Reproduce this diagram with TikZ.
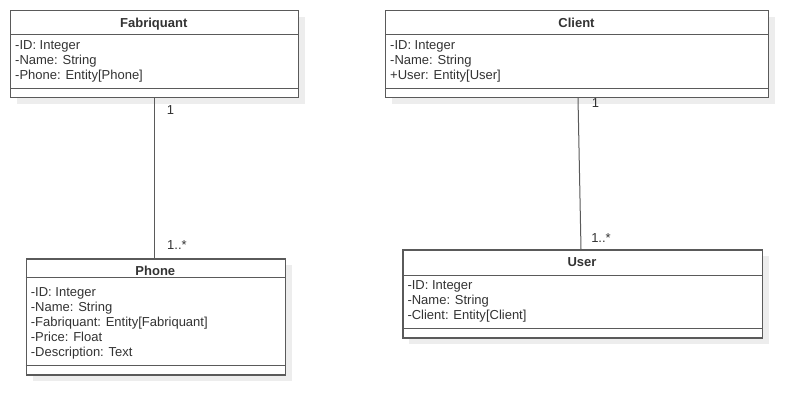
\documentclass[tikz,border=0pt]{standalone}
\usepackage{fontspec}
\setmainfont{Liberation Sans}
\definecolor{linec}{HTML}{5A5A5A}
\definecolor{textc}{HTML}{333333}
\definecolor{shadowc}{HTML}{EDEDED}
\tikzset{
  classbox/.style={draw=linec, line width=1.4bp, fill=white, inner sep=0pt, anchor=north west},
  shadowbox/.style={fill=shadowc, draw=none},
  sepline/.style={draw=linec, line width=1.4bp},
  titletext/.style={font=\fontsize{13bp}{15bp}\selectfont\bfseries, text=textc, anchor=base, inner sep=0pt},
  attrtext/.style={font=\fontsize{13bp}{15bp}\selectfont, text=textc, anchor=base west, inner sep=0pt},
  multtext/.style={font=\fontsize{13bp}{15bp}\selectfont, text=textc, anchor=base, inner sep=0pt},
  assoc/.style={draw=linec, line width=1bp}
}
% \umlclass{name}{left}{top}{right}{bottom}{titlesep}{attrsep}{title}{attrs}
\newcommand{\umlclass}[9]{%
  \fill[shadowbox] (#2+7,#3+7) rectangle (#4+7,#5+7);
  \node[classbox, minimum width={(#4-#2)*1bp}, minimum height={(#5-#3)*1bp}] (#1) at (#2,#3) {};
  \draw[sepline] (#2,#6) -- (#4,#6);
  \draw[sepline] (#2,#7) -- (#4,#7);
  \node[titletext] (#1title) at ({(#2+#4)/2},#3+17) {#8};
  \foreach \t [count=\i] in {#9} {
    \node[attrtext] (#1attr\i) at (#2+5,\firstbase+\i*15-15) {\t};
  }
}
\begin{document}
\begin{tikzpicture}[x=1bp,y=-1bp]
\useasboundingbox (0,0) rectangle (809,415);

\def\firstbase{49.5}
\umlclass{fab}{10}{10}{297.5}{96.5}{34.3}{88.3}{Fabriquant}{{-ID: Integer},{-Name: String},{-Phone: Entity[Phone]}}
\umlclass{cli}{385}{10}{768}{96.5}{34.3}{88.3}{Client}{{-ID: Integer},{-Name: String},{+User: Entity[User]}}
\def\firstbase{296.7}
\umlclass{pho}{25.7}{258.3}{285}{374.3}{277.7}{365.7}{Phone}{{-ID: Integer},{-Name: String},{-Fabriquant: Entity[Fabriquant]},{-Price: Float},{-Description: Text}}
\def\firstbase{289.5}
\umlclass{usr}{402.3}{249.3}{761.7}{337.3}{275.7}{328.3}{User}{{-ID: Integer},{-Name: String},{-Client: Entity[Client]}}

% associations
\draw[assoc] (fab.south west) ++(144,0) coordinate (fabend) -- (fabend |- pho.north);
\draw[assoc] ([xshift=193bp]cli.south west) -- ([xshift=178.7bp]usr.north west);

% multiplicities
\node[multtext] (m1) at (170.5,114.5) {1};
\node[multtext] (m2) at (177,249.5) {1..*};
\node[multtext] (m3) at (595.5,107.5) {1};
\node[multtext] (m4) at (601,242.5) {1..*};
\end{tikzpicture}
\end{document}
